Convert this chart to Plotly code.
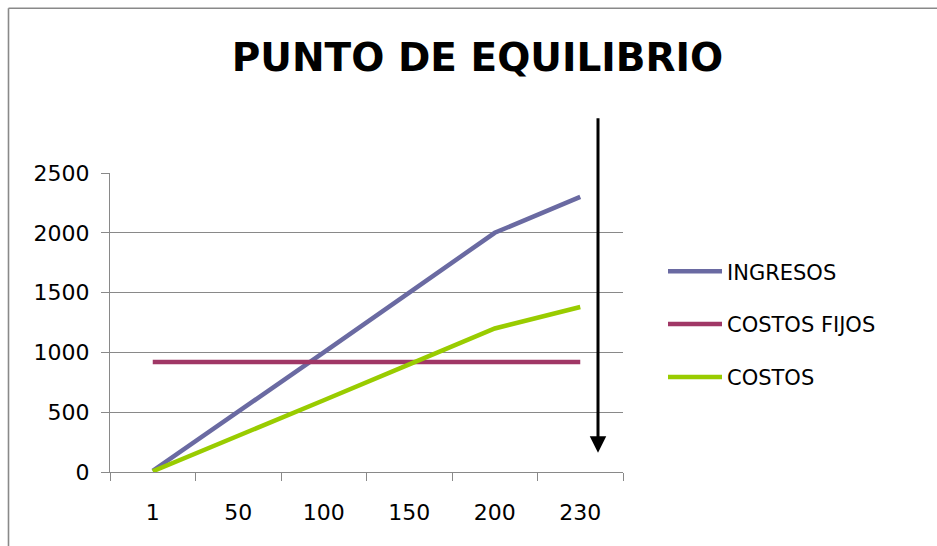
import plotly.graph_objects as go

categories = ["1", "50", "100", "150", "200", "230"]
ingresos = [10, 500, 1000, 1500, 2000, 2300]
costos_fijos = [920, 920, 920, 920, 920, 920]
costos = [6, 300, 600, 900, 1200, 1380]
series_names = ["INGRESOS", "COSTOS FIJOS", "COSTOS"]
series_colors = ["#6A6AA2", "#A03766", "#99CC00"]
y_ticks = [0, 500, 1000, 1500, 2000, 2500]

FONT = "DejaVu Sans"
GRAY = "#898989"

fig = go.Figure()
for i, (name, vals, col) in enumerate(zip(series_names, [ingresos, costos_fijos, costos], series_colors)):
    fig.add_trace(go.Scatter(
        x=categories, y=vals, mode="lines", name=name,
        line=dict(color=col, width=4.5), legendgroup=f"g{i}",
    ))

# plot-area pixel geometry helpers for decorative shapes
L, R, T, B = 110, 623, 173.3, 472.5
def px_x(px):
    return (px - L) / (R - L)
def px_y(py):
    return (B - py) / (B - T)

fig.update_layout(
    width=937, height=546,
    margin=dict(l=110, r=314, t=173, b=74),
    paper_bgcolor="white", plot_bgcolor="white",
    font=dict(family=FONT, color="black", size=22),
    title=dict(
        text="PUNTO DE EQUILIBRIO", xref="container", yref="container",
        x=0.5096, y=1 - 57.5 / 546, xanchor="center", yanchor="middle",
        font=dict(family=FONT, size=39, weight=700, color="black"),
    ),
    showlegend=True,
    legend=dict(
        x=px_x(663), y=px_y(251.5), xanchor="left", yanchor="top",
        font=dict(family=FONT, size=21, color="black"),
        tracegroupgap=22.5, itemwidth=54, bgcolor="rgba(0,0,0,0)",
    ),
    xaxis=dict(
        type="category", tickson="boundaries", ticks="outside", ticklen=8,
        range=[-0.5, 5.5],
        tickcolor=GRAY, tickwidth=1.3, showline=True, linecolor=GRAY, linewidth=1.3,
        showgrid=False, tickfont=dict(family=FONT, size=22), ticklabelstandoff=20,
    ),
    yaxis=dict(
        range=[0, 2500], tickvals=y_ticks, ticks="outside", ticklen=8,
        tickcolor=GRAY, tickwidth=1.3, showline=True, linecolor=GRAY, linewidth=1.3,
        showgrid=True, gridcolor=GRAY, gridwidth=1.3, zeroline=False,
        tickfont=dict(family=FONT, size=22), ticklabelstandoff=7,
    ),
)

# outer chart border (top and left visible)
fig.add_shape(type="line", xref="paper", yref="paper",
              x0=px_x(8.5), x1=px_x(960), y0=px_y(8.5), y1=px_y(8.5),
              line=dict(color=GRAY, width=1.6))
fig.add_shape(type="line", xref="paper", yref="paper",
              x0=px_x(8.5), x1=px_x(8.5), y0=px_y(8.5), y1=px_y(560),
              line=dict(color=GRAY, width=1.6))

# vertical black arrow
arrow_x = (598 - L) / ((R - L) / 6) - 0.5
fig.add_annotation(
    x=arrow_x, y=(B - 453.3) / ((B - T) / 2500), xref="x", yref="y",
    ax=arrow_x, ay=(B - 117) / ((B - T) / 2500), axref="x", ayref="y",
    text="", showarrow=True, arrowhead=2, arrowwidth=3, arrowsize=1.1,
    arrowcolor="black", standoff=0,
)

fig.write_html("out.html")
